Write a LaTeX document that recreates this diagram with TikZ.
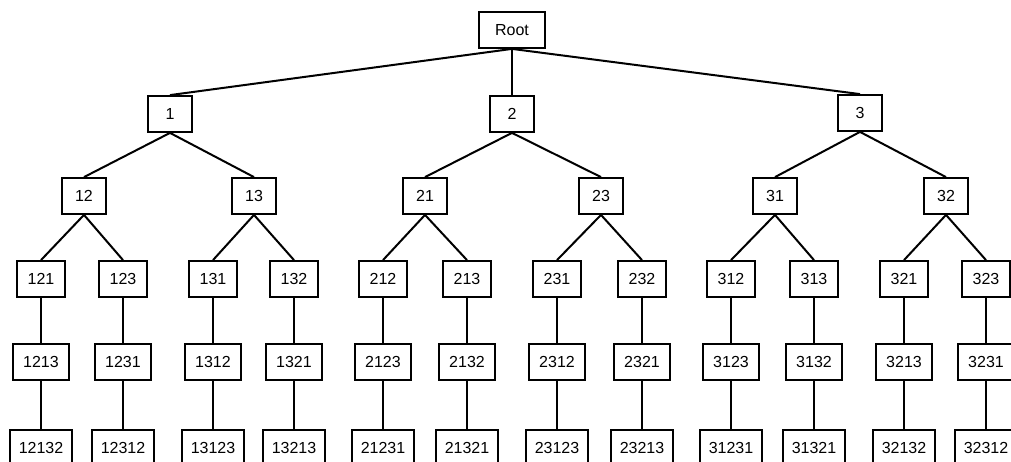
\documentclass[tikz,border=0pt]{standalone}
\usepackage{fontspec}
\setmainfont{Liberation Sans}
\begin{document}
\begin{tikzpicture}[x=1bp,y=-1bp,
  box/.style={draw, line width=1.8bp, minimum height=36bp, inner sep=0pt,
              font=\fontsize{16bp}{19bp}\selectfont},
  b1/.style={box, minimum width=44bp},
  b3/.style={box, minimum width=48bp},
  b4/.style={box, minimum width=56bp},
  b5/.style={box, minimum width=62bp},
  edge/.style={line width=2bp}]
\clip (0,0) rectangle (1011,462);
\fill[white] (0,0) rectangle (1011,462);
\node[box, minimum width=66bp] (nRoot) at (512,30) {Root};
\node[b1] (n1) at (170,114) {1};
\node[b1] (n2) at (512,114) {2};
\node[b1] (n3) at (860,113) {3};
\node[b1] (n12) at (84,196) {12};
\node[b1] (n13) at (254,196) {13};
\node[b1] (n21) at (425,196) {21};
\node[b1] (n23) at (601,196) {23};
\node[b1] (n31) at (775,196) {31};
\node[b1] (n32) at (946,196) {32};
\foreach \a/\b/\c/\x in {121/1213/12132/41, 123/1231/12312/123, 131/1312/13123/213,
  132/1321/13213/294, 212/2123/21231/383, 213/2132/21321/467, 231/2312/23123/557,
  232/2321/23213/642, 312/3123/31231/731, 313/3132/31321/814, 321/3213/32132/904,
  323/3231/32312/986} {
  \node[b3] (n\a) at (\x,279) {\a};
  \node[b4] (n\b) at (\x,362) {\b};
  \node[b5] (n\c) at (\x,448) {\c};
  \draw[edge] (n\a) -- (n\b) -- (n\c);
}
\foreach \p/\q in {Root/1, Root/2, Root/3, 1/12, 1/13, 2/21, 2/23, 3/31, 3/32,
  12/121, 12/123, 13/131, 13/132, 21/212, 21/213, 23/231, 23/232,
  31/312, 31/313, 32/321, 32/323} {
  \draw[edge] (n\p.south) -- (n\q.north);
}
\end{tikzpicture}
\end{document}
